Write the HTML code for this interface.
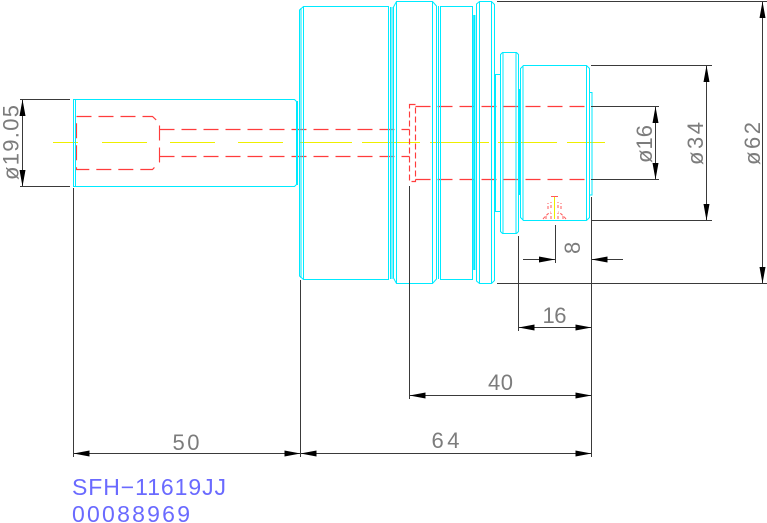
<!DOCTYPE html>
<html><head><meta charset="utf-8"><style>
html,body{margin:0;padding:0;background:#fff;}
svg{display:block}
text{font-family:"Liberation Sans",sans-serif;}
</style></head><body>
<svg width="767" height="523" viewBox="0 0 767 523" xmlns="http://www.w3.org/2000/svg">
<rect width="767" height="523" fill="#fff"/>

<!-- yellow centerline -->
<g stroke="#eeee00" stroke-width="1">
<line x1="53" y1="142.5" x2="78" y2="142.5"/>
<line x1="102" y1="142.5" x2="147" y2="142.5"/>
<line x1="170" y1="142.5" x2="215" y2="142.5"/>
<line x1="238" y1="142.5" x2="283" y2="142.5"/>
<line x1="300" y1="142.5" x2="352" y2="142.5"/>
<line x1="362" y1="142.5" x2="420" y2="142.5"/>
<line x1="430" y1="142.5" x2="489" y2="142.5"/>
<line x1="498" y1="142.5" x2="557" y2="142.5"/>
<line x1="567" y1="142.5" x2="605" y2="142.5"/>
<line x1="554.5" y1="196" x2="554.5" y2="219"/>
</g>

<!-- red hidden lines -->
<g stroke="#ff3c3c" stroke-width="1.15" fill="none" stroke-dasharray="15,7">
<path d="M76.5,116.5 H152.5 L159.5,123 V162 L152.5,169.5 H76.5 Z"/>
<line x1="159.5" y1="129.5" x2="409.5" y2="129.5"/>
<line x1="159.5" y1="156.5" x2="409.5" y2="156.5"/>
<line x1="415.5" y1="106.5" x2="590" y2="106.5"/>
<line x1="415.5" y1="179.5" x2="590" y2="179.5"/>
</g>
<g stroke="#ff3c3c" stroke-width="1.15" fill="none" stroke-dasharray="6,3">
<path d="M409.5,104.5 H415.5 V181.5 H409.5 Z"/>
</g>
<g stroke="#ff5a5a" stroke-width="1" fill="none">
<line x1="551" y1="196.5" x2="558" y2="196.5"/>
<path d="M548,209 v-6 M551,208 v-6 M558,208 v-6 M561,209 v-6" stroke-dasharray="3,2"/>
<path d="M543,219 q5,-6 8,-7 M566,219 q-5,-6 -8,-7 M546,219 v-5 M551,219 v-6 M558,219 v-6 M563,219 v-5" stroke-dasharray="3,2"/>
</g>

<!-- cyan part outline -->
<g stroke="#00eaff" stroke-width="1" fill="none">
<path d="M73.5,99.5 H294.5 L296.5,101.5 V184.5 L294.5,186.5 H73.5 Z"/>
<line x1="75.5" y1="99.5" x2="75.5" y2="186.5"/>
<line x1="297.5" y1="101" x2="297.5" y2="185"/>
<path d="M299.5,10 L303.5,6.5 H388.5 V279.5 H303.5 L299.5,276 Z"/>
<line x1="301" y1="8" x2="301" y2="278"/>
<line x1="303.5" y1="6.5" x2="303.5" y2="279.5"/>
<line x1="390.5" y1="7" x2="390.5" y2="279"/>
<line x1="392" y1="7" x2="392" y2="279"/>
<path d="M393.5,7 L396.5,1.5 H432.5 L436.5,6 V279 L432.5,283.5 H396.5 L393.5,278 Z"/>
<line x1="396.5" y1="1.5" x2="396.5" y2="283.5"/>
<line x1="432.5" y1="1.5" x2="432.5" y2="283.5"/>
<line x1="438.5" y1="6" x2="438.5" y2="279"/>
<rect x="440.5" y="6.5" width="32" height="273"/>
<path d="M476.5,4 L479.5,1.5 H491.5 L494.5,4.5 V280.5 L491.5,283.5 H479.5 L476.5,281 Z"/>
<line x1="479.5" y1="1.5" x2="479.5" y2="283.5"/>
<line x1="491.5" y1="1.5" x2="491.5" y2="283.5"/>
<line x1="495.5" y1="74" x2="495.5" y2="212"/>
<line x1="494" y1="74.5" x2="501" y2="74.5"/>
<line x1="494" y1="211.5" x2="501" y2="211.5"/>
<path d="M500.5,54.5 L502.5,52.5 H516.5 L518.5,54.5 V231.5 L516.5,233.5 H502.5 L500.5,231.5 Z"/>
<line x1="503" y1="52.5" x2="503" y2="233.5"/>
<line x1="516" y1="52.5" x2="516" y2="233.5"/>
<path d="M520.5,68.5 L523.5,65.5 H586.5 L589.5,68.5 V217.5 L586.5,220.5 H523.5 L520.5,217.5 Z"/>
<line x1="523" y1="65.5" x2="523" y2="220.5"/>
<line x1="586.5" y1="65.5" x2="586.5" y2="220.5"/>
<path d="M589.5,92.5 H592 V195 H589.5"/>
</g>
<g stroke="#00eaff" stroke-width="2.2">
<line x1="474.3" y1="15" x2="474.3" y2="270"/>
<line x1="519.6" y1="89" x2="519.6" y2="195"/>
</g>

<!-- dimension lines -->
<g stroke="#3a3a3a" stroke-width="1" fill="none">
<line x1="20" y1="99.5" x2="70" y2="99.5"/>
<line x1="20" y1="186.5" x2="70" y2="186.5"/>
<line x1="22.5" y1="99.5" x2="22.5" y2="186.5"/>
<line x1="497" y1="1.5" x2="767" y2="1.5"/>
<line x1="497" y1="283.5" x2="767" y2="283.5"/>
<line x1="762.5" y1="1.5" x2="762.5" y2="283.5"/>
<line x1="591" y1="65.5" x2="712" y2="65.5"/>
<line x1="591" y1="220.5" x2="712" y2="220.5"/>
<line x1="706.5" y1="65.5" x2="706.5" y2="220.5"/>
<line x1="591" y1="106.5" x2="659" y2="106.5"/>
<line x1="591" y1="179.5" x2="659" y2="179.5"/>
<line x1="655.5" y1="106.5" x2="655.5" y2="179.5"/>
<line x1="555.5" y1="225" x2="555.5" y2="263"/>
<line x1="591.5" y1="197" x2="591.5" y2="457"/>
<line x1="523" y1="259.5" x2="555" y2="259.5"/>
<line x1="591.5" y1="259.5" x2="623" y2="259.5"/>
<line x1="518.5" y1="236" x2="518.5" y2="331"/>
<line x1="518.5" y1="327.5" x2="591.5" y2="327.5"/>
<line x1="409.5" y1="186" x2="409.5" y2="399"/>
<line x1="409.5" y1="395.5" x2="591.5" y2="395.5"/>
<line x1="73.5" y1="188" x2="73.5" y2="457"/>
<line x1="300.5" y1="280" x2="300.5" y2="457"/>
<line x1="73.5" y1="453.5" x2="591.5" y2="453.5"/>
</g>
<g fill="#000">
<polygon points="22.5,99.5 19.5,116 25.5,116"/>
<polygon points="22.5,186.5 19.5,170 25.5,170"/>
<polygon points="655.5,106.5 652.5,123 658.5,123"/>
<polygon points="655.5,179.5 652.5,163 658.5,163"/>
<polygon points="706.5,65.5 703.5,82 709.5,82"/>
<polygon points="706.5,220.5 703.5,204 709.5,204"/>
<polygon points="762.5,1.5 759.5,18 765.5,18"/>
<polygon points="762.5,283.5 759.5,267 765.5,267"/>
<polygon points="555,259.5 539,256.5 539,262.5"/>
<polygon points="591.5,259.5 607.5,256.5 607.5,262.5"/>
<polygon points="518.5,327.5 534.5,324.5 534.5,330.5"/>
<polygon points="591.5,327.5 575.5,324.5 575.5,330.5"/>
<polygon points="409.5,395.5 425.5,392.5 425.5,398.5"/>
<polygon points="591.5,395.5 575.5,392.5 575.5,398.5"/>
<polygon points="73.5,453.5 89.5,450.5 89.5,456.5"/>
<polygon points="300.5,453.5 284.5,450.5 284.5,456.5"/>
<polygon points="300.5,453.5 316.5,450.5 316.5,456.5"/>
<polygon points="591.5,453.5 575.5,450.5 575.5,456.5"/>
</g>

<!-- dimension text -->
<g fill="#7c7c7c" font-size="22">
<text transform="translate(18.5,180) rotate(-90)" textLength="75" lengthAdjust="spacing">ø19.05</text>
<text transform="translate(652,163) rotate(-90)" textLength="38" lengthAdjust="spacing">ø16</text>
<text transform="translate(703,165) rotate(-90)" textLength="43" lengthAdjust="spacing">ø34</text>
<text transform="translate(760,165) rotate(-90)" textLength="43" lengthAdjust="spacing">ø62</text>
<text transform="translate(580,254) rotate(-90)">8</text>
<text x="542.5" y="323" textLength="24" lengthAdjust="spacing">16</text>
<text x="488" y="390" textLength="25" lengthAdjust="spacing">40</text>
<text x="431.5" y="448" textLength="28" lengthAdjust="spacing">64</text>
<text x="172.5" y="450" textLength="27" lengthAdjust="spacing">50</text>
</g>
<g fill="#6a6aff" font-size="23">
<text x="72" y="495" textLength="154" lengthAdjust="spacing">SFH−11619JJ</text>
<text x="72" y="522" textLength="118" lengthAdjust="spacing">00088969</text>
</g>
</svg>
</body></html>
